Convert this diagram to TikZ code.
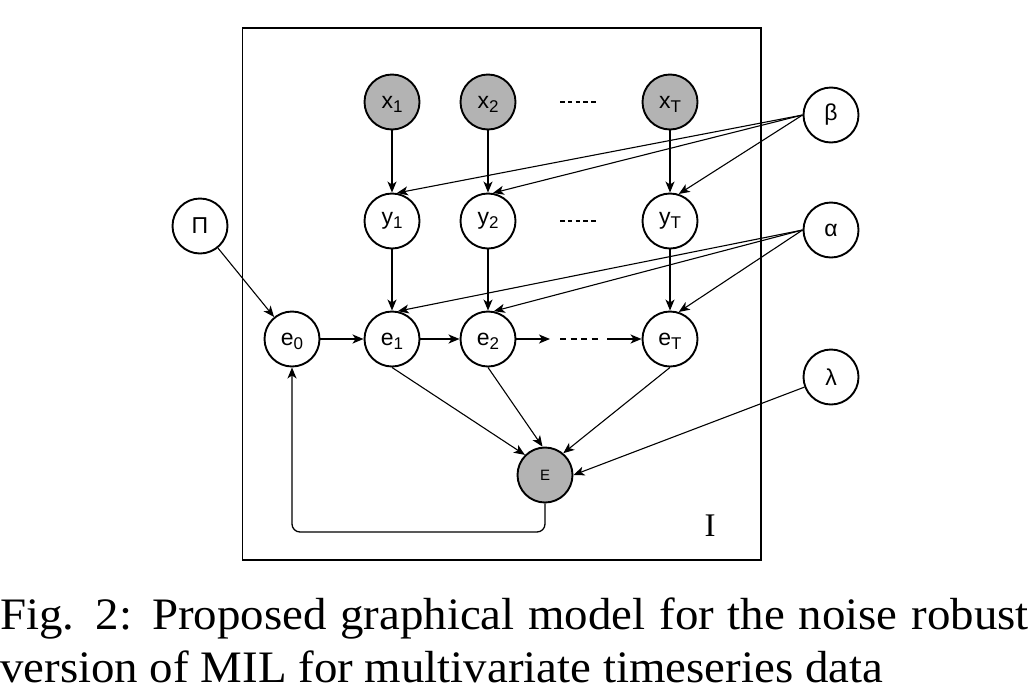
\documentclass[tikz,border=0pt]{standalone}
\usepackage{fontspec}
\setmainfont{Liberation Serif}
\newfontfamily\labfont{Liberation Sans}
\usetikzlibrary{arrows.meta}
\definecolor{obsgray}{RGB}{179,179,179}
\newcommand\sbs[1]{\raisebox{-4pt}[0pt][0pt]{\fontsize{17}{17}\selectfont #1}}
\begin{document}
\begin{tikzpicture}[x=1pt,y=-1pt,
  var/.style={circle,draw,line width=1.9pt,minimum size=55pt,inner sep=0pt,
    font=\labfont\fontsize{23}{23}\selectfont},
  obs/.style={var,fill=obsgray},
  tip/.style={-{Stealth[length=11pt,width=9pt,inset=3pt]}},
  vedge/.style={tip,line width=1.4pt},
  hedge/.style={tip,line width=1.8pt},
  dedge/.style={tip,line width=1.1pt},
  dots/.style={line width=1.1pt,dash pattern=on 4.5pt off 3.3pt},
  edots/.style={line width=1.6pt,dash pattern=on 6pt off 4.5pt}
]
\useasboundingbox (0,0) rectangle (1035,694);
% plate
\draw[line width=1.2pt] (242.5,28) rectangle (761,560);
\node[font=\fontsize{33}{33}\selectfont,inner sep=0pt] (plate) at (710,526) {I};

% nodes
\node[obs] (x1) at (392,102) {x\sbs{1}};
\node[obs] (x2) at (488,102) {x\sbs{2}};
\node[obs] (xT) at (670,102) {x\sbs{T}};
\node[var] (y1) at (392,221) {y\sbs{1}};
\node[var] (y2) at (488,221) {y\sbs{2}};
\node[var] (yT) at (670,221) {y\sbs{T}};
\node[var] (e0) at (292,339) {e\sbs{0}};
\node[var] (e1) at (392,339) {e\sbs{1}};
\node[var] (e2) at (488,339) {e\sbs{2}};
\node[var] (eT) at (670,339) {e\sbs{T}};
\node[obs,font=\labfont\fontsize{15}{15}\selectfont] (E) at (545,475) {E};
\node[var] (Pi) at (200,226) {Π};
\node[var] (beta) at (831,115) {β};
\node[var] (alpha) at (831,230) {α};
\node[var] (lambda) at (831,377) {λ};

% dashes
\draw[dots] (560,102) -- (598,102);
\draw[dots] (560,221) -- (598,221);
\coordinate (d1) at (550,339);
\coordinate (d2) at (560,339);
\coordinate (d3) at (598,339);
\coordinate (d4) at (607,339);

% edges
\draw[vedge] (x1) -- (y1);
\draw[vedge] (x2) -- (y2);
\draw[vedge] (xT) -- (yT);
\draw[vedge] (y1) -- (e1);
\draw[vedge] (y2) -- (e2);
\draw[vedge] (yT) -- (eT);
\draw[dedge] (beta.west) -- (y1.80);
\draw[dedge] (beta.west) -- (y2.80);
\draw[dedge] (beta.west) -- (yT.72);
\draw[dedge] (alpha.west) -- (e1.78);
\draw[dedge] (alpha.west) -- (e2.78);
\draw[dedge] (alpha.west) -- (eT.72);
\draw[dedge] (Pi) -- (e0);
\draw[hedge] (e0) -- (e1);
\draw[hedge] (e1) -- (e2);
\draw[hedge] (e2) -- (d1);
\draw[edots] (d2) -- (d3);
\draw[hedge] (d4) -- (eT);
\draw[dedge] (e1.south) -- (E.135);
\draw[dedge] (e2.south) -- (E.95);
\draw[dedge] (eT.south) -- (E.50);
\draw[dedge] (lambda) -- (E.east);
\draw[dedge,line width=1.3pt,rounded corners=8pt] (E.south) -- (E.south |- 0,532) -| (e0.south);

% caption
\node[anchor=base west,inner sep=0pt,font=\fontsize{45}{53}\selectfont] (cap1) at (0,629)
  {\scalebox{1.042}[1]{\makebox[987pt][s]{Fig. 2: Proposed graphical model for the noise robust}}};
\node[anchor=base west,inner sep=0pt,font=\fontsize{45}{53}\selectfont] (cap2) at (0,682)
  {\scalebox{1.042}[1]{version of MIL for multivariate timeseries data}};
\end{tikzpicture}
\end{document}
